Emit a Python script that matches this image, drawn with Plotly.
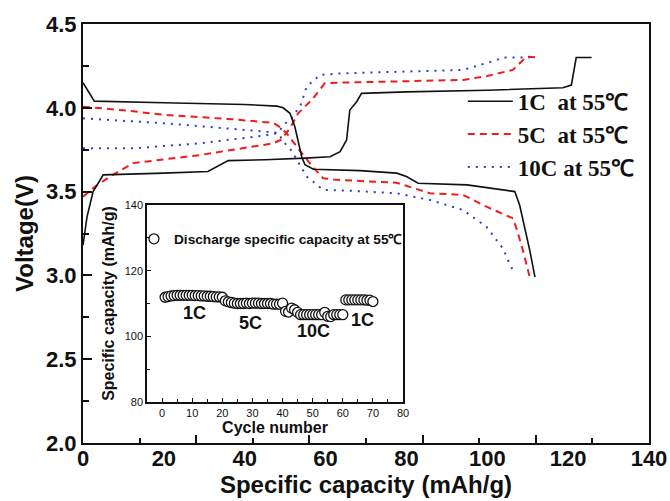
import plotly.graph_objects as go

# ---------------- main chart data (Specific capacity mAh/g, Voltage V) ----------------
c1_charge_x = [0, 1.0, 2.5, 5.0, 20, 30.9, 35.9, 45, 55, 61.1, 63.6, 65.2, 66.0, 67.7, 68.9, 80, 100, 118.7, 120.8, 122.0, 125.8]
c1_charge_y = [3.18, 3.35, 3.50, 3.60, 3.61, 3.62, 3.685, 3.69, 3.70, 3.708, 3.738, 3.808, 3.987, 4.036, 4.086, 4.095, 4.105, 4.12, 4.136, 4.30, 4.30]
c1_dis_x = [0, 2.8, 20, 40, 48, 49.5, 51.2, 52.4, 54.1, 54.9, 57.0, 68.5, 77.6, 80, 82.9, 95, 106.8, 108.0, 110.5, 111.8]
c1_dis_y = [4.15, 4.04, 4.03, 4.02, 4.01, 4.0, 3.967, 3.887, 3.708, 3.66, 3.633, 3.625, 3.61, 3.59, 3.55, 3.54, 3.50, 3.42, 3.15, 2.99]

c5_charge_x = [0, 3, 6.7, 12.4, 28.9, 47.1, 49.0, 50.3, 51.2, 53.2, 56.6, 59.8, 63, 94, 100, 106.3, 109.7, 112.5]
c5_charge_y = [3.47, 3.53, 3.59, 3.67, 3.718, 3.788, 3.81, 3.85, 3.878, 3.967, 4.047, 4.146, 4.15, 4.166, 4.19, 4.226, 4.305, 4.30]
c5_dis_x = [0, 10, 20.7, 37.2, 47.1, 49.0, 50.3, 51.2, 54.1, 57.1, 59.4, 62.7, 77.6, 85.8, 94, 99.8, 106.4, 107.6, 108.8, 110.5]
c5_dis_y = [4.007, 3.985, 3.957, 3.931, 3.91, 3.88, 3.85, 3.82, 3.73, 3.64, 3.58, 3.57, 3.553, 3.49, 3.48, 3.41, 3.34, 3.25, 3.15, 2.99]

c10_charge_x = [0, 12.4, 28.9, 45, 48.3, 49.5, 51.6, 52.8, 53.9, 55.3, 58.6, 63.6, 80, 94, 102.3, 103.9, 110.5]
c10_charge_y = [3.758, 3.758, 3.788, 3.835, 3.85, 3.897, 3.937, 3.977, 4.02, 4.126, 4.196, 4.205, 4.215, 4.226, 4.285, 4.30, 4.30]
c10_dis_x = [0, 20.7, 45.4, 48.3, 49.5, 51.6, 54.1, 55.3, 57.4, 59.4, 66, 77.6, 85.8, 94, 99.8, 103.9, 105.5, 106.8]
c10_dis_y = [3.937, 3.907, 3.857, 3.85, 3.80, 3.744, 3.64, 3.59, 3.55, 3.51, 3.505, 3.49, 3.45, 3.39, 3.29, 3.16, 3.07, 3.01]

series_names = ["1C\u00a0 at 55℃", "5C\u00a0 at 55℃", "10C at 55℃"]

# ---------------- inset data ----------------
cycles = list(range(1, 71))
discharge_capacity = [
    111.9, 112.1, 112.3, 112.4, 112.5, 112.5, 112.5, 112.5, 112.5, 112.5,
    112.4, 112.4, 112.3, 112.3, 112.2, 112.2, 112.1, 112.0, 112.0, 111.9,
    110.8, 110.5, 110.3, 110.1, 110.0, 110.0, 110.0, 110.1, 110.0, 110.1,
    110.1, 110.1, 110.0, 110.0, 110.0, 110.0, 109.8, 109.8, 109.8, 110.1,
    107.6, 107.4, 108.6, 108.1, 107.3, 106.6, 106.6, 106.6, 106.6, 106.6,
    106.6, 106.6, 106.6, 107.3, 106.1, 106.0, 106.6, 106.6, 106.6, 106.6,
    111.1, 111.1, 111.1, 111.1, 111.1, 111.1, 111.1, 111.0, 111.0, 110.6,
]
rate_labels = ["1C", "5C", "10C", "1C"]
rate_label_x = [10.8, 29.2, 50.2, 66.7]
rate_label_y = [107.1, 104.0, 101.5, 105.0]

x_tick_labels = [0, 20, 40, 60, 80, 100, 120, 140]

SANS = "Liberation Sans, Arial, sans-serif"
SERIF = "Liberation Serif, Times New Roman, serif"

fig = go.Figure()

def join(a, b):
    return a + [None] + b

# 1C curve sits on the labelled x axis (x3); the others on the tick-marked axis (x). Same range.
fig.add_trace(go.Scatter(
    x=join(c1_charge_x, c1_dis_x), y=join(c1_charge_y, c1_dis_y),
    xaxis="x3", yaxis="y",
    mode="lines", name=series_names[0],
    line=dict(color="#111111", width=1.6), legend="legend"))
fig.add_trace(go.Scatter(
    x=join(c5_charge_x, c5_dis_x), y=join(c5_charge_y, c5_dis_y),
    mode="lines", name=series_names[1],
    line=dict(color="#f01c1c", width=2, dash="7px,5px"), legend="legend"))
fig.add_trace(go.Scatter(
    x=join(c10_charge_x, c10_dis_x), y=join(c10_charge_y, c10_dis_y),
    mode="lines", name=series_names[2],
    line=dict(color="#2a3ccc", width=2, dash="2px,6px"), legend="legend"))

fig.add_trace(go.Scatter(
    x=cycles, y=discharge_capacity, xaxis="x2", yaxis="y2",
    mode="markers", name="Discharge specific capacity at 55℃",
    marker=dict(symbol="circle", size=10, color="white",
                line=dict(color="#111111", width=1.3)),
    legend="legend2"))

for t, xx, yy in zip(rate_labels, rate_label_x, rate_label_y):
    fig.add_annotation(x=xx, y=yy, xref="x2", yref="y2", text=t, showarrow=False,
                       font=dict(family=SANS, size=18, color="#111111", weight="bold"))

fig.update_layout(
    width=670, height=501,
    margin=dict(l=83, r=21, t=24, b=58),
    paper_bgcolor="white", plot_bgcolor="white",
    font=dict(family=SANS, color="#111111"),
    xaxis=dict(
        range=[0, 140], tickmode="linear", tick0=0, dtick=28,
        ticks="inside", ticklen=8, tickwidth=2, tickcolor="#111111",
        showticklabels=False,
        minor=dict(tickmode="linear", tick0=14, dtick=28, ticks="inside", ticklen=5,
                   tickwidth=2, tickcolor="#111111", showgrid=False),
        showgrid=False, zeroline=False,
        showline=True, linecolor="#111111", linewidth=2, mirror=True,
        automargin=False),
    xaxis3=dict(
        overlaying="x", anchor="y", range=[0, 140], side="bottom",
        tickmode="array", tickvals=x_tick_labels, ticks="",
        showgrid=False, zeroline=False, showline=False,
        tickfont=dict(family=SANS, size=22, weight="bold"),
        title=dict(text="Specific capacity (mAh/g)", standoff=4,
                   font=dict(family=SANS, size=24, weight="bold")),
        automargin=False),
    yaxis=dict(
        range=[2.0, 4.5], tickmode="linear", tick0=2.0, dtick=0.5, tickformat=".1f",
        ticks="inside", ticklen=9, tickwidth=2, tickcolor="#111111",
        minor=dict(dtick=0.25, ticks="inside", ticklen=6, tickwidth=2, tickcolor="#111111"),
        showgrid=False, zeroline=False,
        showline=True, linecolor="#111111", linewidth=2, mirror=True,
        tickfont=dict(family=SANS, size=22, weight="bold"),
        title=dict(text="Voltage(V)", standoff=6,
                   font=dict(family=SANS, size=24, weight="bold")),
        automargin=False),
    xaxis2=dict(
        domain=[0.1131, 0.5654], anchor="y2", range=[-5, 80],
        tickmode="linear", tick0=0, dtick=10, ticks="inside", ticklen=4, tickwidth=1.2,
        tickcolor="#111111",
        minor=dict(dtick=5, tick0=0, ticks="inside", ticklen=3, tickwidth=1.2, tickcolor="#111111"),
        showgrid=False, zeroline=False,
        showline=True, linecolor="#111111", linewidth=1.5, mirror=True,
        tickfont=dict(family=SANS, size=11),
        title=dict(text="Cycle number", standoff=2,
                   font=dict(family=SANS, size=16, weight="bold"))),
    yaxis2=dict(
        domain=[0.0979, 0.568], anchor="x2", range=[80, 140],
        tickmode="linear", tick0=80, dtick=20, ticks="inside", ticklen=4, tickwidth=1.2,
        tickcolor="#111111",
        minor=dict(dtick=10, tick0=80, ticks="inside", ticklen=3, tickwidth=1.2, tickcolor="#111111"),
        showgrid=False, zeroline=False,
        showline=True, linecolor="#111111", linewidth=1.5, mirror=True,
        tickfont=dict(family=SANS, size=11),
        title=dict(text="Specific capacity (mAh/g)", standoff=6,
                   font=dict(family=SANS, size=16, weight="bold"))),
    legend=dict(
        x=0.671, y=0.867, xanchor="left", yanchor="top",
        bgcolor="rgba(0,0,0,0)", borderwidth=0,
        font=dict(family=SERIF, size=23, color="#111111", weight="bold"),
        itemwidth=45, tracegroupgap=0),
    legend2=dict(
        x=0.09, y=0.487, xanchor="left", yanchor="middle",
        bgcolor="rgba(0,0,0,0)", borderwidth=0,
        font=dict(family=SANS, size=13.7, color="#111111", weight="bold")),
    showlegend=True,
)

fig.write_html("out.html", config={"displayModeBar": False},
               post_script="document.body.style.margin='0';")
